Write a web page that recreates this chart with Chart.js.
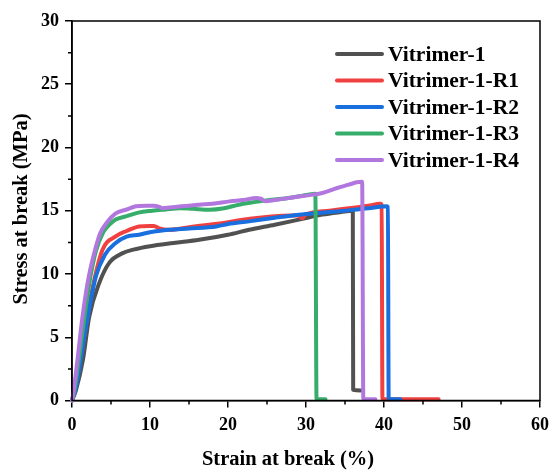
<!DOCTYPE html>
<html>
<head>
<meta charset="utf-8">
<script src="https://cdn.jsdelivr.net/npm/chart.js@4"></script>
<style>
  html, body { margin: 0; padding: 0; background: #fff; }
  #wrap { width: 556px; height: 472px; }
</style>
</head>
<body>
<div id="wrap"><canvas id="stressChart" width="556" height="472"></canvas></div>
<script>
// stress-strain curves (strain %, stress MPa)
const labels = ['Vitrimer-1', 'Vitrimer-1-R1', 'Vitrimer-1-R2', 'Vitrimer-1-R3', 'Vitrimer-1-R4'];
const colors = ['#515151', '#F14040', '#1A6FDF', '#37AD6B', '#B177DE'];
const xTitle = 'Strain at break (%)';
const yTitle = 'Stress at break (MPa)';

const strainV1 = [0, 0.5, 1.4, 2.2, 3.5, 4.8, 6.5, 8, 10, 13, 16.3, 20, 22.7, 26, 29.1, 32.1, 34.5, 36.0, 36.05, 37.0];
const stressV1 = [0, 0.8, 3.2, 6.6, 9.3, 10.9, 11.65, 11.95, 12.2, 12.45, 12.7, 13.1, 13.5, 13.9, 14.3, 14.7, 14.9, 15.0, 0.85, 0.8];

const strainR1 = [0, 0.5, 1.0, 1.8, 2.6, 3.9, 5.6, 7.0, 8.6, 10.0, 10.5, 11.2, 12.5, 15, 17.6, 20, 21.9, 24, 27, 29.0, 29.5, 30, 33, 35.5, 38, 39.5, 39.7, 39.8, 47];
const stressR1 = [0, 1.2, 3.0, 6.0, 8.8, 11.9, 12.97, 13.4, 13.76, 13.8, 13.8, 13.6, 13.5, 13.7, 13.9, 14.1, 14.3, 14.45, 14.6, 14.65, 14.4, 14.7, 15.0, 15.2, 15.4, 15.55, 15.5, 0.1, 0.1];

const strainR2 = [0, 0.5, 1.0, 1.8, 3.06, 4.2, 5.6, 7.0, 8.6, 10, 12.5, 15, 18.5, 20, 22.7, 26, 29.1, 32, 35.5, 38, 40.3, 40.5, 40.6, 42.1];
const stressR2 = [0, 1.0, 2.8, 5.85, 9.8, 11.5, 12.45, 12.95, 13.1, 13.3, 13.5, 13.6, 13.76, 13.95, 14.16, 14.45, 14.69, 14.85, 15.03, 15.2, 15.35, 15.3, 0.1, 0.1];

const strainR3 = [0, 0.3, 1.0, 1.6, 2.2, 3.06, 4.0, 4.8, 5.6, 6.9, 8.5, 10.3, 12, 13.8, 15.5, 17.6, 19.5, 21.4, 23, 24.9, 27, 29.1, 31.2, 31.35, 32.5];
const stressR3 = [0, 0.8, 3.8, 6.6, 9.2, 11.8, 13.3, 13.9, 14.3, 14.55, 14.85, 15.0, 15.1, 15.2, 15.15, 15.08, 15.2, 15.48, 15.65, 15.82, 15.95, 16.14, 16.35, 0.1, 0.1];

const strainR4 = [0, 0.1, 0.7, 1.3, 2.0, 2.5, 3.0, 3.6, 4.5, 5.6, 7.0, 8.2, 9.5, 10.5, 11.2, 11.6, 12.5, 14, 16.3, 18, 20.2, 22, 23.6, 24.2, 24.8, 26, 27.8, 30, 32.1, 34, 35.5, 36.5, 37.2, 37.35, 38.9];
const stressR4 = [0, 0.3, 3.2, 6.4, 9.3, 10.8, 12.0, 13.2, 14.1, 14.8, 15.1, 15.35, 15.4, 15.4, 15.3, 15.2, 15.25, 15.35, 15.48, 15.55, 15.74, 15.85, 16.0, 15.95, 15.75, 15.85, 16.0, 16.2, 16.4, 16.8, 17.06, 17.25, 17.3, 0.1, 0.1];

const strains = [strainV1, strainR1, strainR2, strainR3, strainR4];
const stresses = [stressV1, stressR1, stressR2, stressR3, stressR4];

const xMinorTicks = [5, 15, 25, 35, 45, 55];
const yMinorTicks = [2.5, 7.5, 12.5, 17.5, 22.5, 27.5];

const serif = 'Liberation Serif';

const datasets = labels.map((name, i) => ({
    label: name,
    data: strains[i].map((s, j) => ({ x: s, y: stresses[i][j] })),
    borderColor: colors[i],
    backgroundColor: colors[i],
    borderWidth: 4,
    pointRadius: 0,
    cubicInterpolationMode: 'monotone',
    borderCapStyle: 'round',
    borderJoinStyle: 'round',
    clip: 4,
    order: labels.length - i
}));

// box round the plot, short outward minor ticks, axis titles
const frameAndMinorTicks = {
    id: 'frameAndMinorTicks',
    afterDraw(chart) {
        const { ctx, chartArea: a, scales: { x, y } } = chart;
        ctx.save();
        ctx.strokeStyle = '#000';
        ctx.lineWidth = 1.5;
        ctx.strokeRect(a.left, a.top, a.right - a.left, a.bottom - a.top);
        ctx.beginPath();
        xMinorTicks.forEach(v => {
            const px = x.getPixelForValue(v);
            ctx.moveTo(px, a.bottom);
            ctx.lineTo(px, a.bottom + 4);
        });
        yMinorTicks.forEach(v => {
            const py = y.getPixelForValue(v);
            ctx.moveTo(a.left, py);
            ctx.lineTo(a.left - 4, py);
        });
        ctx.stroke();

        ctx.fillStyle = '#000';
        ctx.font = 'bold 20.5px "' + serif + '"';
        ctx.textAlign = 'center';
        ctx.textBaseline = 'middle';
        ctx.fillText(xTitle, a.left + 216, 460);
        ctx.translate(22, a.top + 188);
        ctx.rotate(-Math.PI / 2);
        ctx.fillText(yTitle, 0, 0);
        ctx.restore();
    }
};

// legend inside the plot, top right
const insideLegend = {
    id: 'insideLegend',
    afterDraw(chart) {
        const { ctx, chartArea: a } = chart;
        const x0 = a.left + 265;
        const y0 = a.top + 33;
        const rowH = 26.5;
        ctx.save();
        ctx.font = 'bold 21.5px "' + serif + '"';
        ctx.textBaseline = 'middle';
        ctx.lineCap = 'round';
        chart.data.datasets.forEach((ds, i) => {
            const yy = y0 + i * rowH;
            ctx.strokeStyle = ds.borderColor;
            ctx.lineWidth = 4;
            ctx.beginPath();
            ctx.moveTo(x0, yy);
            ctx.lineTo(x0 + 45, yy);
            ctx.stroke();
            ctx.fillStyle = '#000';
            ctx.fillText(ds.label, x0 + 51, yy + 1);
        });
        ctx.restore();
    }
};

const ctx = document.getElementById('stressChart').getContext('2d');
new Chart(ctx, {
    type: 'line',
    data: { datasets: datasets },
    options: {
        responsive: false,
        animation: false,
        layout: { padding: { top: 21, right: 14, left: 0, bottom: 0 } },
        plugins: {
            legend: { display: false },
            tooltip: { enabled: false }
        },
        scales: {
            x: {
                type: 'linear',
                min: 0,
                max: 60,
                afterFit: (s) => { s.height = 71.5; },
                ticks: {
                    stepSize: 10,
                    color: '#000',
                    padding: 7,
                    font: { family: serif, weight: 'bold', size: 18 }
                },
                grid: { drawOnChartArea: false, tickLength: 7, color: '#000', lineWidth: 1.5 },
                border: { color: '#000', width: 1.5 }
            },
            y: {
                type: 'linear',
                min: 0,
                max: 30,
                afterFit: (s) => { s.width = 72; },
                ticks: {
                    stepSize: 5,
                    color: '#000',
                    padding: 6,
                    font: { family: serif, weight: 'bold', size: 18 }
                },
                grid: { drawOnChartArea: false, tickLength: 7, color: '#000', lineWidth: 1.5 },
                border: { color: '#000', width: 1.5 }
            }
        }
    },
    plugins: [frameAndMinorTicks, insideLegend]
});
</script>
</body>
</html>
